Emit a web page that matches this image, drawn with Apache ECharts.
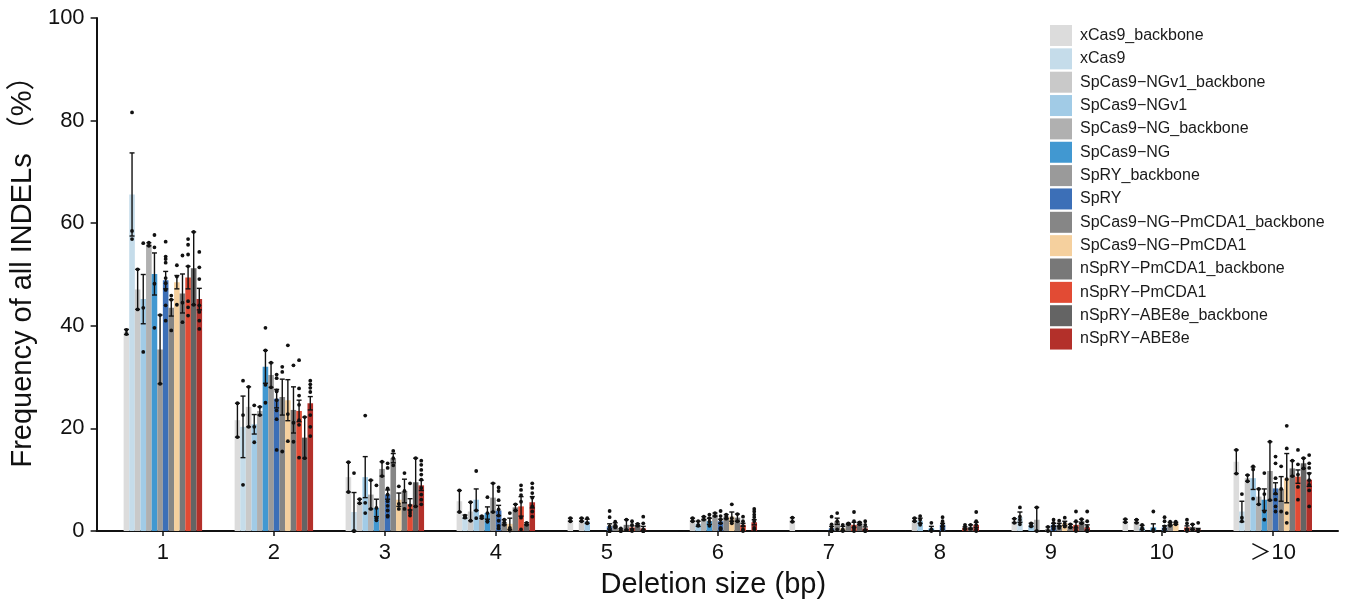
<!DOCTYPE html>
<html>
<head>
<meta charset="utf-8">
<script src="https://cdn.jsdelivr.net/npm/echarts@6/dist/echarts.min.js"></script>
<style>
  html, body { margin: 0; padding: 0; background: #fff; }
  #chart { width: 1348px; height: 605px; }
</style>
</head>
<body>
<div id="chart"></div>
<script>
// Deletion-size categories (x positions 1..11)
const categories = ['1', '2', '3', '4', '5', '6', '7', '8', '9', '10', '\uFF1E10'];
const yTicks = [0, 20, 40, 60, 80, 100];

const seriesNames = [
  'xCas9_backbone', 'xCas9',
  'SpCas9\u2212NGv1_backbone', 'SpCas9\u2212NGv1',
  'SpCas9\u2212NG_backbone', 'SpCas9\u2212NG',
  'SpRY_backbone', 'SpRY',
  'SpCas9\u2212NG\u2212PmCDA1_backbone', 'SpCas9\u2212NG\u2212PmCDA1',
  'nSpRY\u2212PmCDA1_backbone', 'nSpRY\u2212PmCDA1',
  'nSpRY\u2212ABE8e_backbone', 'nSpRY\u2212ABE8e'
];
const seriesColors = [
  '#dcdcdc', '#c5dcea', '#c9c9c9', '#a1cbe6', '#b0b0b0', '#4198d1', '#9a9a9a',
  '#3c6fb7', '#868686', '#f5d09e', '#787878', '#e24b34', '#646464', '#b3302a'
];

// Mean frequency (%) per category, error (SE) and replicate values
const mean_xCas9_bb = [38.8, 21.6, 10.5, 5.8, 2.2, 0, 2.2, 0, 2.0, 2.0, 13.5];
const err_xCas9_bb  = [0.5, 3.3, 2.9, 2.1, 0.3, 0, 0.4, 0, 0.4, 0.3, 2.3];
const pts_xCas9_bb  = [[38.4, 39.2], [24.9, 18.3], [13.4, 7.6], [7.9, 3.7], [2.5, 1.9], [], [2.6, 1.8], [], [2.4, 1.6], [2.3, 1.7], [15.8, 11.2]];

const mean_xCas9 = [65.6, 20.3, 3.7, 2.8, 0, 0, 0, 0, 2.7, 0, 3.8];
const err_xCas9  = [8.1, 6.0, 3.8, 0.3, 0, 0, 0, 0, 1.0, 0, 2.0];
const pts_xCas9  = [[81.6, 58.5, 56.9], [29.3, 22.6, 9.0], [11.3, 0, 0], [3.0, 2.7, 2.6], [], [], [], [], [4.6, 2.8, 2.2, 1.3], [], [7.2, 2.6, 1.9]];

const mean_NGv1_bb = [47.1, 24.2, 5.8, 3.8, 2.2, 2.2, 0, 2.2, 0, 1.9, 10.3];
const err_NGv1_bb  = [3.9, 3.9, 0.4, 1.8, 0.3, 0.3, 0, 0.3, 0, 0.3, 0.6];
const pts_NGv1_bb  = [[51.0, 43.2], [28.1, 20.3], [6.2, 5.4], [5.6, 2.0], [2.5, 1.9], [2.5, 1.9], [], [2.5, 1.9], [], [2.2, 1.6], [10.9, 9.7]];

const mean_NGv1 = [45.2, 20.8, 10.5, 6.1, 1.9, 1.4, 0, 2.0, 1.2, 0.7, 10.3];
const err_NGv1  = [4.8, 1.9, 4.0, 2.1, 0.4, 0.5, 0, 0.5, 0.3, 0.4, 2.2];
const pts_NGv1  = [[56.1, 43.5, 34.9], [24.5, 20.3, 17.3], [22.5, 5.5, 3.5], [11.7, 4.0, 2.5], [2.5, 1.6, 1.5], [1.9, 1.2, 1.0], [], [2.9, 2.2, 1.5, 1.2], [1.5, 1.2, 0.9], [1.2, 0.6, 0.3], [12.6, 12.0, 6.3]];

const mean_NG_bb = [55.9, 23.4, 7.1, 2.7, 0, 2.5, 0, 0, 2.2, 0, 6.7];
const err_NG_bb  = [0.3, 0.8, 2.8, 0.2, 0, 0.3, 0, 0, 2.4, 0, 1.5];
const pts_NG_bb  = [[56.2, 55.6], [24.2, 22.6], [9.9, 4.3], [2.9, 2.5], [], [2.8, 2.2], [], [], [4.6, 0], [], [8.2, 5.2]];

const mean_NG = [50.1, 32.0, 4.5, 3.5, 0, 1.9, 0, 0.5, 0, 0.7, 6.1];
const err_NG  = [4.1, 3.2, 1.7, 1.2, 0, 0.6, 0, 0.4, 0, 0.7, 2.1];
const pts_NG  = [[57.7, 55.3, 48.2, 39.6], [39.6, 35.2, 28.5, 25.0], [8.9, 4.5, 2.5, 2.1], [6.6, 3.5, 1.9, 1.8], [], [3.2, 2.5, 1.8, 1.0], [], [1.6, 0.3, 0], [], [3.8, 0.3, 0], [11.3, 7.2, 3.8, 2.2]];

const mean_SpRY_bb = [35.4, 30.4, 12.1, 6.5, 0, 3.2, 0, 0, 0.4, 0, 11.7];
const err_SpRY_bb  = [6.7, 2.4, 1.4, 2.8, 0, 0.3, 0, 0, 0.4, 0, 5.7];
const pts_SpRY_bb  = [[42.1, 28.7], [32.8, 28.0], [13.5, 10.7], [9.3, 3.7], [], [3.5, 2.9], [], [], [0.8, 0], [], [17.4, 6.0]];

const mean_SpRY = [48.9, 25.8, 7.1, 4.0, 0.9, 1.9, 0.5, 1.2, 1.2, 0.7, 8.3];
const err_SpRY  = [1.7, 1.8, 0.9, 1.0, 0.5, 0.4, 0.4, 0.3, 0.3, 0.3, 1.1];
const pts_SpRY  = [[56.4, 53.5, 53.0, 52.3, 49.3, 48.3, 47.0, 44.0, 41.0], [30.5, 29.8, 27.4, 27.2, 25.5, 23.5, 21.8, 15.8],
                   [13.2, 12.3, 8.3, 7.1, 5.8, 4.9, 4.0, 3.0, 2.8], [8.5, 7.8, 6.0, 4.2, 3.0, 2.0, 1.0, 0.5],
                   [3.9, 2.7, 0.9, 0, 0, 0, 0], [3.9, 2.9, 2.2, 1.5, 0.6, 0.5, 0.3], [2.8, 1.3, 0.5, 0, 0, 0],
                   [2.7, 1.9, 1.2, 0.6, 0.3, 0.2], [2.2, 1.6, 1.0, 0.8, 0.5, 0.4], [2.7, 1.9, 0.9, 0.3, 0, 0],
                   [14.5, 13.2, 10.3, 7.3, 6.1, 4.8, 3.8]];

const mean_PmCDA1ng_bb = [43.5, 26.1, 14.2, 1.7, 1.2, 2.8, 1.9, 0, 1.2, 1.4, 8.2];
const err_PmCDA1ng_bb  = [1.6, 3.5, 0.9, 0.5, 0.4, 0.4, 0.6, 0, 0.3, 0.3, 2.4];
const pts_PmCDA1ng_bb  = [[45.9, 45.1, 39.1], [32.0, 31.0, 15.5], [15.6, 14.2, 12.8], [2.2, 1.7, 1.2], [1.8, 1.1, 0.7], [3.2, 2.8, 2.4], [3.5, 1.9, 0.3], [], [2.0, 1.0, 0.6], [1.8, 1.4, 1.0], [12.6, 8.2, 3.8]];

const mean_PmCDA1ng = [48.5, 25.5, 6.1, 1.4, 0.2, 2.8, 0.5, 0, 1.5, 1.5, 10.3];
const err_PmCDA1ng  = [1.3, 4.0, 1.3, 1.1, 0.2, 0.9, 0.4, 0, 0.4, 0.2, 4.8];
const pts_PmCDA1ng  = [[51.8, 49.6, 44.1], [36.2, 22.8, 17.5], [8.7, 5.3, 4.3], [3.5, 0.6, 0.1], [0.5, 0, 0], [5.2, 2.5, 1.9, 1.5], [1.2, 0.3, 0], [], [2.6, 1.5, 0.9, 0.9], [1.8, 1.4, 1.3], [20.5, 16.1, 10.1, 3.5, 1.6]];

const mean_PmCDA1ry_bb = [46.3, 23.6, 7.8, 4.6, 1.2, 2.6, 1.4, 0, 1.0, 0, 12.2];
const err_PmCDA1ry_bb  = [3.8, 4.5, 2.3, 0.6, 1.0, 0.7, 0.1, 0, 0.3, 0, 1.5];
const pts_PmCDA1ry_bb  = [[53.7, 44.5, 40.7], [32.3, 21.1, 17.4], [11.3, 7.8, 4.3], [5.2, 4.0], [2.2, 0.2], [3.3, 1.9], [1.5, 1.3], [], [1.3, 0.7], [], [13.7, 10.7]];

const mean_PmCDA1ry = [49.4, 23.4, 5.2, 4.8, 0.7, 1.2, 1.2, 0.6, 1.2, 0.7, 10.6];
const err_PmCDA1ry  = [2.2, 2.1, 1.1, 1.9, 0.3, 0.3, 0.5, 0.2, 0.6, 0.3, 1.3];
const pts_PmCDA1ry  = [[56.9, 55.8, 53.9, 51.6, 44.8, 43.6, 42.0], [33.3, 27.8, 26.4, 24.6, 21.6, 20.7, 14.3],
                       [9.3, 5.0, 4.0, 3.5, 3.0], [8.9, 8.0, 7.0, 5.7, 2.6, 0.3], [1.9, 1.2, 0.3, 0],
                       [2.8, 1.9, 1.0, 0.3, 0], [3.7, 1.9, 0.8, 0.5, 0], [1.2, 0.8, 0.3], [3.8, 1.9, 0.8, 0.2, 0],
                       [2.2, 1.5, 0.3, 0.2, 0], [15.8, 13.0, 11.0, 8.6, 6.1]];

const mean_ABE8e_bb = [51.2, 18.2, 9.5, 1.4, 1.2, 0, 1.5, 0.8, 1.9, 0.8, 13.2];
const err_ABE8e_bb  = [7.1, 4.0, 4.7, 0.2, 0.2, 0, 0.2, 0.4, 0.4, 0.5, 1.0];
const pts_ABE8e_bb  = [[58.3, 44.1], [22.2, 14.2], [14.2, 4.8], [1.6, 1.2], [1.4, 1.0], [], [1.7, 1.3], [1.2, 0.4], [2.3, 1.5], [1.3, 0.3], [14.2, 12.2]];

const mean_ABE8e = [45.2, 24.9, 8.9, 5.6, 0.5, 1.7, 0.5, 1.2, 0.7, 0.3, 10.0];
const err_ABE8e  = [2.1, 1.3, 1.0, 1.1, 0.4, 0.5, 0.3, 0.5, 0.5, 0.2, 1.3];
const pts_ABE8e  = [[54.4, 51.4, 49.1, 44.0, 42.7, 41.0, 39.4], [29.3, 28.6, 27.9, 27.1, 22.6, 20.3, 18.5],
                    [13.7, 12.9, 11.9, 11.0, 10.0, 8.4, 7.1, 6.1, 5.2], [9.3, 8.4, 7.4, 6.5, 4.8, 3.8, 2.8],
                    [2.8, 1.5, 0.3, 0, 0, 0], [4.3, 3.8, 3.2, 2.7, 1.9, 0.6, 0.2], [1.9, 1.2, 0.2, 0, 0],
                    [3.7, 1.9, 1.2, 0.3, 0], [3.8, 1.9, 0.8, 0, 0], [1.6, 0.2, 0, 0], [14.8, 13.2, 12.3, 11.2, 9.9, 9.0, 7.9, 4.8]];

const means = [mean_xCas9_bb, mean_xCas9, mean_NGv1_bb, mean_NGv1, mean_NG_bb, mean_NG, mean_SpRY_bb, mean_SpRY,
               mean_PmCDA1ng_bb, mean_PmCDA1ng, mean_PmCDA1ry_bb, mean_PmCDA1ry, mean_ABE8e_bb, mean_ABE8e];
const errs = [err_xCas9_bb, err_xCas9, err_NGv1_bb, err_NGv1, err_NG_bb, err_NG, err_SpRY_bb, err_SpRY,
              err_PmCDA1ng_bb, err_PmCDA1ng, err_PmCDA1ry_bb, err_PmCDA1ry, err_ABE8e_bb, err_ABE8e];
const points = [pts_xCas9_bb, pts_xCas9, pts_NGv1_bb, pts_NGv1, pts_NG_bb, pts_NG, pts_SpRY_bb, pts_SpRY,
                pts_PmCDA1ng_bb, pts_PmCDA1ng, pts_PmCDA1ry_bb, pts_PmCDA1ry, pts_ABE8e_bb, pts_ABE8e];

const FONT = "'Liberation Sans', Arial, 'Noto Sans CJK SC', sans-serif";
const N = seriesNames.length;
const BAR_W = 0.0505;          // bar width in x-axis units (14 bars side by side)
const CAP = 2.5;               // half width of error-bar caps (px)
const DOT_R = 1.9;

function makeRender(s) {
  return function (params, api) {
    const i = params.dataIndex;
    const x = api.value(0);
    const m = api.value(1);
    const e = api.value(2);
    const xc = x + (s - (N - 1) / 2) * BAR_W;
    const tl = api.coord([xc - BAR_W / 2, m]);
    const br = api.coord([xc + BAR_W / 2, 0]);
    const children = [{
      type: 'rect',
      shape: { x: tl[0], y: tl[1], width: br[0] - tl[0], height: br[1] - tl[1] },
      style: { fill: seriesColors[s] }
    }];
    const cx = api.coord([xc, 0])[0];
    const yTop = api.coord([xc, m + e])[1];
    const yBot = api.coord([xc, Math.max(0, m - e)])[1];
    const stroke = { stroke: '#111', lineWidth: 1.4 };
    children.push({ type: 'line', shape: { x1: cx, y1: yTop, x2: cx, y2: yBot }, style: stroke });
    children.push({ type: 'line', shape: { x1: cx - CAP, y1: yTop, x2: cx + CAP, y2: yTop }, style: stroke });
    children.push({ type: 'line', shape: { x1: cx - CAP, y1: yBot, x2: cx + CAP, y2: yBot }, style: stroke });
    (points[s][i] || []).forEach(function (p) {
      const py = api.coord([xc, p])[1];
      children.push({ type: 'circle', shape: { cx: cx, cy: py, r: DOT_R }, style: { fill: '#111' } });
    });
    return { type: 'group', children: children };
  };
}

const series = seriesNames.map(function (name, s) {
  return {
    name: name,
    type: 'custom',
    renderItem: makeRender(s),
    itemStyle: { color: seriesColors[s] },
    encode: { x: 0, y: 1 },
    clip: false,
    data: categories.map(function (c, k) { return [k + 1, means[s][k], errs[s][k]]; })
  };
});

const chart = echarts.init(document.getElementById('chart'), null, { renderer: 'canvas' });
chart.setOption({
  animation: false,
  color: seriesColors,
  textStyle: { fontFamily: FONT },
  grid: { left: 96, right: 10, top: 18, bottom: 72, containLabel: false },
  legend: {
    orient: 'vertical',
    left: 1045,
    top: 20,
    icon: 'rect',
    itemWidth: 22,
    itemHeight: 21,
    itemGap: 2.35,
    selectedMode: false,
    data: seriesNames,
    textStyle: { fontFamily: FONT, fontSize: 16, color: '#1a1a1a', padding: [0, 0, 0, 3] }
  },
  xAxis: {
    type: 'value',
    min: 0.403,
    max: 11.588,
    name: 'Deletion size (bp)',
    nameLocation: 'middle',
    nameGap: 40,
    nameTextStyle: { fontFamily: FONT, fontSize: 29, color: '#111', padding: [0, 8, 0, 0] },
    splitLine: { show: false },
    axisLine: { show: true, onZero: false, lineStyle: { color: '#111', width: 2 } },
    axisTick: { show: true, length: 5, customValues: categories.map(function (c, k) { return k + 1; }), lineStyle: { color: '#111', width: 1.5 } },
    axisLabel: {
      customValues: categories.map(function (c, k) { return k + 1; }),
      formatter: function (v) { return categories[Math.round(v) - 1]; },
      fontFamily: FONT, fontSize: 22, color: '#111', margin: 11
    }
  },
  yAxis: {
    type: 'value',
    min: 0,
    max: 100,
    interval: 20,
    name: 'Frequency of all INDELs \uFF08%\uFF09',
    nameLocation: 'middle',
    nameGap: 58,
    nameTextStyle: { fontFamily: FONT, fontSize: 29, color: '#111', padding: [0, 0, 0, 20] },
    splitLine: { show: false },
    axisLine: { show: true, lineStyle: { color: '#111', width: 2 } },
    axisTick: { show: true, length: 6, lineStyle: { color: '#111', width: 1.5 } },
    axisLabel: { fontFamily: FONT, fontSize: 22, color: '#111', margin: 12 }
  },
  series: series
});
</script>
</body>
</html>
